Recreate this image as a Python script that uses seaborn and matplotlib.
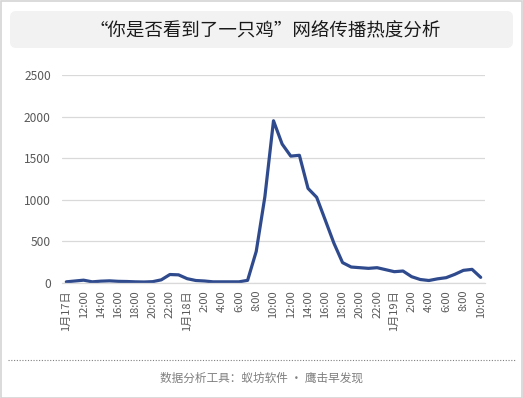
import matplotlib
matplotlib.use("Agg")
import matplotlib.pyplot as plt
from matplotlib.patches import FancyBboxPatch, Rectangle
from matplotlib.lines import Line2D
import seaborn as sns
import pandas as pd

# ---- data ----
tick_labels = ["1月17日", "12:00", "14:00", "16:00", "18:00", "20:00", "22:00",
               "1月18日", "2:00", "4:00", "6:00", "8:00", "10:00", "12:00", "14:00",
               "16:00", "18:00", "20:00", "22:00",
               "1月19日", "2:00", "4:00", "6:00", "8:00", "10:00"]
heat = [14, 24, 34, 14, 22, 26, 20, 18, 14, 12, 16, 38, 102, 98, 52, 30, 24, 14, 14, 14,
        14, 32, 380, 1036, 1950, 1670, 1525, 1535, 1137, 1030, 755, 478, 245, 192,
        184, 176, 184, 160, 136, 144, 76, 42, 30, 50, 64, 104, 152, 164, 68]
hours = list(range(len(heat)))

title = "“你是否看到了一只鸡”网络传播热度分析"
footer = "数据分析工具：蚁坊软件 · 鹰击早发现"

sns.set_theme(style="white")
plt.rcParams['font.family'] = ['Noto Sans CJK SC', 'DejaVu Sans']

W, H = 523, 398
fig = plt.figure(figsize=(W / 100, H / 100), dpi=100)
fig.patch.set_facecolor("white")

# outer border
fig.patches.append(Rectangle((0.5 / W, 0.5 / H), 1 - 1.5 / W, 1 - 1.5 / H,
                             transform=fig.transFigure, fill=False,
                             edgecolor="#d4d4d4", linewidth=1.2))

# title box
bx0, bx1 = 10 / W, 513 / W
by0, by1 = 1 - 48 / H, 1 - 11 / H
fig.patches.append(FancyBboxPatch((bx0, by0), bx1 - bx0, by1 - by0,
                                  boxstyle="round,pad=0,rounding_size=0.012",
                                  mutation_aspect=W / H,
                                  transform=fig.transFigure,
                                  facecolor="#f2f2f2", edgecolor="none"))
fig.text(265 / W, 1 - 30 / H, title, ha="center", va="center",
         fontsize=13.3, color="#1a1a1a")

# plot
ax = fig.add_axes([62 / W, 1 - 283 / H, (485 - 62) / W, (283 - 75) / H])
df = pd.DataFrame({"hour": hours, "heat": heat})
sns.lineplot(data=df, x="hour", y="heat", ax=ax, color="#2f4b8e", linewidth=2.3)

ax.set_xlim(-0.5, len(heat) - 0.5)
ax.set_ylim(0, 2500)
ax.set_yticks([0, 500, 1000, 1500, 2000, 2500])
ax.set_yticklabels(["0", "500", "1000", "1500", "2000", "2500"])
ax.set_xticks(hours[::2])
ax.set_xticklabels(tick_labels, rotation=90)
ax.tick_params(axis="both", length=0, labelsize=8, labelcolor="#595959")
ax.tick_params(axis="y", pad=8, labelsize=8.6)
ax.tick_params(axis="x", pad=5)
ax.set_xlabel("")
ax.set_ylabel("")
ax.grid(axis="y", color="#d9d9d9", linewidth=0.9)
ax.set_axisbelow(True)
for s in ["top", "right", "left"]:
    ax.spines[s].set_visible(False)
ax.spines["bottom"].set_color("#d9d9d9")
ax.spines["bottom"].set_linewidth(0.9)
ax.set_facecolor("white")

# footer
fig.lines.append(Line2D([8 / W, 515 / W], [1 - 360 / H, 1 - 360 / H],
                        transform=fig.transFigure, color="#808080",
                        linewidth=0.8, linestyle=(0, (1, 1.5))))
fig.text(262 / W, 1 - 378 / H, footer, ha="center", va="center",
         fontsize=8.4, color="#7f7f7f")

fig.savefig("out.png", dpi=100)
